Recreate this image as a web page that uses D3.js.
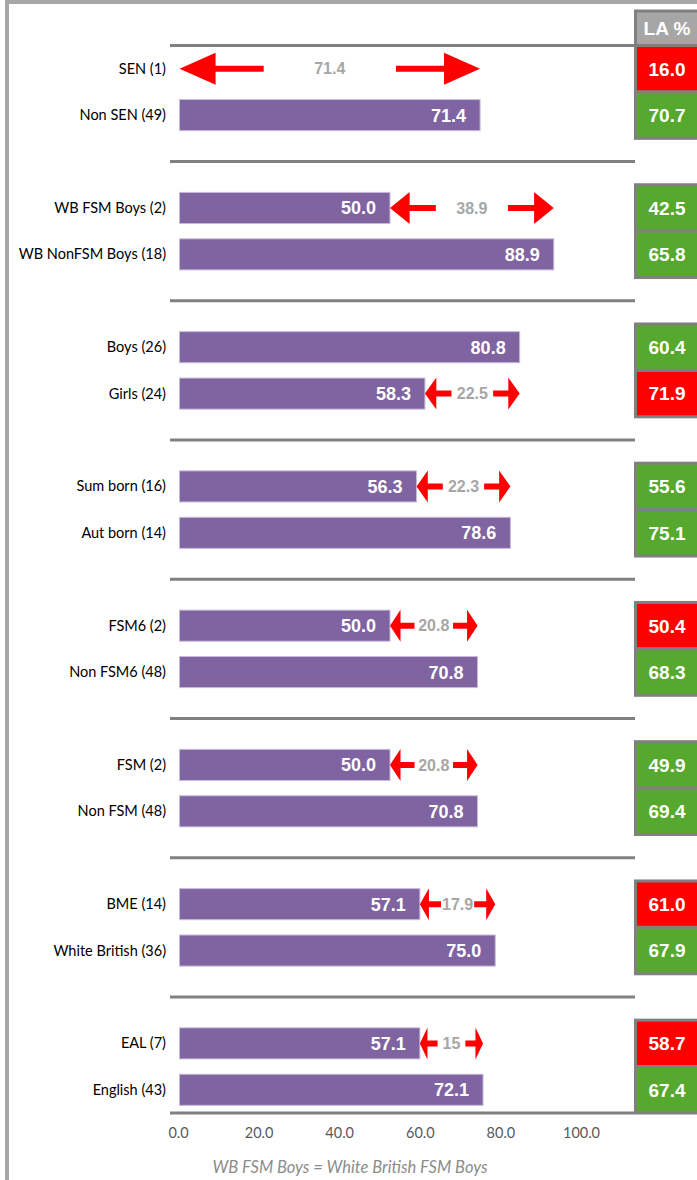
<!DOCTYPE html>
<html>
<head>
<meta charset="utf-8">
<script src="https://cdn.jsdelivr.net/npm/d3@7"></script>
<style>
  body { margin: 0; background: #fff; }
  svg { display: block; }
</style>
</head>
<body>
<div id="chart"></div>
<script>
// Data
const categories = ["SEN (1)", "Non SEN (49)", "WB FSM Boys (2)", "WB NonFSM Boys (18)",
    "Boys (26)", "Girls (24)", "Sum born (16)", "Aut born (14)", "FSM6 (2)", "Non FSM6 (48)",
    "FSM (2)", "Non FSM (48)", "BME (14)", "White British (36)", "EAL (7)", "English (43)"];
const schoolValues = [0, 71.4, 50.0, 88.9, 80.8, 58.3, 56.3, 78.6, 50.0, 70.8, 50.0, 70.8, 57.1, 75.0, 57.1, 72.1];
const laValues = [16.0, 70.7, 42.5, 65.8, 60.4, 71.9, 55.6, 75.1, 50.4, 68.3, 49.9, 69.4, 61.0, 67.9, 58.7, 67.4];
const gapLabels = ["71.4", "38.9", "22.5", "22.3", "20.8", "20.8", "17.9", "15"];
const xTicks = [0, 20, 40, 60, 80, 100];
const footnote = "WB FSM Boys = White British FSM Boys";

const width = 697, height = 1180;
const nGroups = categories.length / 2;

const svg = d3.select("#chart").append("svg")
    .attr("width", width)
    .attr("height", height);

// outer frame (only top and left visible)
svg.append("rect")
    .attr("x", 7).attr("y", 2)
    .attr("width", 900).attr("height", 1400)
    .attr("fill", "none")
    .attr("stroke", "#a6a6a6")
    .attr("stroke-width", 4);

// slots: two rows per group, one empty slot between groups
const slots = [];
for (let g = 0; g < nGroups; g++) {
    slots.push(categories[2 * g], categories[2 * g + 1]);
    if (g < nGroups - 1) slots.push("gap" + g);
}

const y = d3.scaleBand()
    .domain(slots)
    .range([45.5, 1113])
    .paddingInner(0.33)
    .paddingOuter(0.165);
const step = y.step();
const yc = d => y(d) + y.bandwidth() / 2;

const x = d3.scaleLinear().domain([0, 100]).range([179.5, 600.5]);
// the tick labels in the picture sit on a slightly narrower spacing
const xLabels = d3.scaleLinear().domain([0, 100]).range([178, 581]);

const lineX0 = 170, lineX1 = 635;

// separators: top line, gap slots, bottom axis line
const sepYs = [y.range()[0]]
    .concat(slots.filter(s => s.startsWith("gap")).map(yc))
    .concat([y.range()[1]]);
svg.selectAll(".sep")
    .data(sepYs)
    .enter().append("line")
    .attr("x1", lineX0).attr("x2", lineX1)
    .attr("y1", d => d).attr("y2", d => d)
    .attr("stroke", "#808080")
    .attr("stroke-width", 3);

const rows = categories.map((c, i) => ({ cat: c, v: schoolValues[i], la: laValues[i], i }));

// category labels
svg.selectAll(".cat")
    .data(rows)
    .enter().append("text")
    .attr("x", 166)
    .attr("y", d => yc(d.cat))
    .attr("dy", "0.35em")
    .attr("text-anchor", "end")
    .style("font-family", "Lato, 'Open Sans', sans-serif")
    .style("font-size", "14.5px")
    .attr("fill", "#000")
    .text(d => d.cat);

// bars
svg.selectAll(".bar")
    .data(rows.filter(d => d.v > 0))
    .enter().append("rect")
    .attr("x", x(0))
    .attr("y", d => y(d.cat))
    .attr("width", d => x(d.v) - x(0))
    .attr("height", y.bandwidth())
    .attr("fill", "#8064a2")
    .attr("stroke", "#c9bcdb")
    .attr("stroke-width", 1);

svg.selectAll(".val")
    .data(rows.filter(d => d.v > 0))
    .enter().append("text")
    .attr("x", d => x(d.v) - 14)
    .attr("y", d => yc(d.cat))
    .attr("dy", "0.36em")
    .attr("text-anchor", "end")
    .style("font-family", "'Liberation Sans', Arial, sans-serif")
    .style("font-weight", "bold")
    .style("font-size", "18px")
    .attr("fill", "#fff")
    .text(d => d.v.toFixed(1));

// gap arrows: drawn on the lower row, from lower value to higher value
const gaps = d3.range(nGroups).map(g => {
    const a = rows[2 * g], b = rows[2 * g + 1];
    const lo = a.v <= b.v ? a : b, hi = a.v <= b.v ? b : a;
    return { row: lo.cat, from: lo.v, to: hi.v, label: gapLabels[g] };
});

const headH = 32, shaft = 6;
const arrows = svg.selectAll(".arrow")
    .data(gaps)
    .enter().append("g");

arrows.each(function (d) {
    const g = d3.select(this);
    const x1 = x(d.from), x2 = x(d.to), L = x2 - x1;
    const cy = yc(d.row);
    const hl = 0.12 * L, inner = 0.28 * L;
    // left arrow
    g.append("path")
        .attr("d", `M${x1},${cy} L${x1 + hl},${cy - headH / 2} L${x1 + hl},${cy - shaft / 2}
            L${x1 + inner},${cy - shaft / 2} L${x1 + inner},${cy + shaft / 2}
            L${x1 + hl},${cy + shaft / 2} L${x1 + hl},${cy + headH / 2} Z`)
        .attr("fill", "#ff0000");
    // right arrow
    g.append("path")
        .attr("d", `M${x2},${cy} L${x2 - hl},${cy - headH / 2} L${x2 - hl},${cy - shaft / 2}
            L${x2 - inner},${cy - shaft / 2} L${x2 - inner},${cy + shaft / 2}
            L${x2 - hl},${cy + shaft / 2} L${x2 - hl},${cy + headH / 2} Z`)
        .attr("fill", "#ff0000");
    g.append("text")
        .attr("x", (x1 + x2) / 2)
        .attr("y", cy)
        .attr("dy", "0.36em")
        .attr("text-anchor", "middle")
        .style("font-family", "'Liberation Sans', Arial, sans-serif")
        .style("font-weight", "bold")
        .style("font-size", "16px")
        .attr("fill", "#a6a6a6")
        .text(d.label);
});

// LA % column
const laX = 635.5, laW = 120;
svg.append("rect")
    .attr("x", laX).attr("y", 11)
    .attr("width", laW).attr("height", y.range()[0] - 11)
    .attr("fill", "#a6a6a6")
    .attr("stroke", "#808080")
    .attr("stroke-width", 3);
svg.append("text")
    .attr("x", 667).attr("y", (11 + y.range()[0]) / 2)
    .attr("dy", "0.36em")
    .attr("text-anchor", "middle")
    .style("font-family", "'Liberation Sans', Arial, sans-serif")
    .style("font-weight", "bold")
    .style("font-size", "19px")
    .attr("fill", "#fff")
    .text("LA %");

svg.selectAll(".la")
    .data(rows)
    .enter().append("rect")
    .attr("x", laX)
    .attr("y", d => yc(d.cat) - step / 2)
    .attr("width", laW)
    .attr("height", step)
    .attr("fill", d => d.v < d.la ? "#ff0000" : "#56a82e")
    .attr("stroke", "#808080")
    .attr("stroke-width", 3);

svg.selectAll(".laText")
    .data(rows)
    .enter().append("text")
    .attr("x", 667)
    .attr("y", d => yc(d.cat))
    .attr("dy", "0.36em")
    .attr("text-anchor", "middle")
    .style("font-family", "'Liberation Sans', Arial, sans-serif")
    .style("font-weight", "bold")
    .style("font-size", "19px")
    .attr("fill", "#fff")
    .text(d => d.la.toFixed(1));

// x axis labels
const axis = svg.append("g")
    .attr("transform", `translate(0, ${y.range()[1] + 12})`)
    .call(d3.axisBottom(xLabels).tickValues(xTicks).tickSize(0).tickFormat(d3.format(".1f")));
axis.select(".domain").remove();
axis.selectAll("text")
    .style("font-family", "Lato, 'Open Sans', sans-serif")
    .style("font-size", "14.5px")
    .attr("fill", "#595959");

// footnote
svg.append("text")
    .attr("x", 350).attr("y", 1167)
    .attr("dy", "0.35em")
    .attr("text-anchor", "middle")
    .style("font-family", "Lato, 'Open Sans', sans-serif")
    .style("font-style", "italic")
    .style("font-size", "16.5px")
    .attr("fill", "#8c8c8c")
    .text(footnote);
</script>
</body>
</html>
